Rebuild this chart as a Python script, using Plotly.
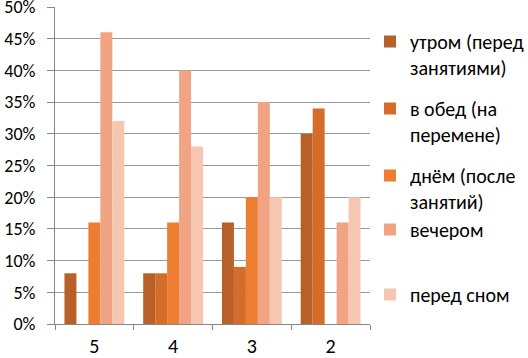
import plotly.graph_objects as go

categories = ["5", "4", "3", "2"]
series_names = [
    "утром (перед<br>занятиями)",
    "в обед (на<br>перемене)",
    "днём (после<br>занятий)",
    "вечером",
    "перед сном",
]
morning = [0.08, 0.08, 0.16, 0.30]
lunch = [0.00, 0.08, 0.09, 0.34]
afternoon = [0.16, 0.16, 0.20, 0.00]
evening = [0.46, 0.40, 0.35, 0.16]
before_sleep = [0.32, 0.28, 0.20, 0.20]
series_values = [morning, lunch, afternoon, evening, before_sleep]
colors = ["#B8602A", "#D56D2A", "#ED7D31", "#F1A484", "#F6C6B0"]
y_ticks = [0, 0.05, 0.10, 0.15, 0.20, 0.25, 0.30, 0.35, 0.40, 0.45, 0.50]

FONT = "Calibri, Carlito, 'Open Sans', sans-serif"

fig = go.Figure()
legend_ids = ["legend", "legend2", "legend3", "legend4", "legend5"]
for name, vals, col, lg in zip(series_names, series_values, colors, legend_ids):
    fig.add_trace(go.Bar(x=categories, y=vals, name=name, marker_color=col,
                         marker_line_width=0, legend=lg))

# legend first-line pixel centres in the reference
legend_py = [43, 110, 177, 231, 296]
plot_top, plot_bottom = 7, 324
h = plot_bottom - plot_top
leg_common = dict(x=1.0, xanchor="left", yanchor="top", valign="top",
                  font=dict(family=FONT, size=20, color="#000000"),
                  bgcolor="rgba(0,0,0,0)", borderwidth=0, itemwidth=30,
                  tracegroupgap=0)
legends = {}
for lg, py in zip(legend_ids, legend_py):
    legends[lg] = dict(leg_common, y=(plot_bottom - (py - 21)) / h)

fig.update_layout(
    width=528, height=358,
    margin=dict(l=55, r=158, t=7, b=34, autoexpand=False),
    paper_bgcolor="white", plot_bgcolor="white",
    barmode="group", bargap=0.24, bargroupgap=0,
    showlegend=True,
    font=dict(family=FONT, size=20, color="#000000"),
    **legends,
)
fig.update_yaxes(range=[0, 0.5], tickvals=y_ticks, tickformat=".0%",
                 showgrid=True, gridcolor="#9A9A9A", gridwidth=1,
                 showline=True, linecolor="#868686", linewidth=1,
                 ticks="outside", ticklen=7, tickcolor="#868686",
                 zeroline=False, ticklabelstandoff=8, automargin=False,
                 ticklabeloverflow="allow",
                 tickfont=dict(family=FONT, size=18, color="#000000"))
fig.update_xaxes(showline=True, linecolor="#868686", linewidth=1,
                 ticks="outside", ticklen=5, tickcolor="#868686",
                 tickson="boundaries", showgrid=False, automargin=False,
                 ticklabelstandoff=4,
                 tickfont=dict(family=FONT, size=20, color="#000000"))

fig.write_html(
    "out.html",
    config={"displayModeBar": False},
    post_script="document.body.style.margin='0';document.body.style.padding='0';",
)
